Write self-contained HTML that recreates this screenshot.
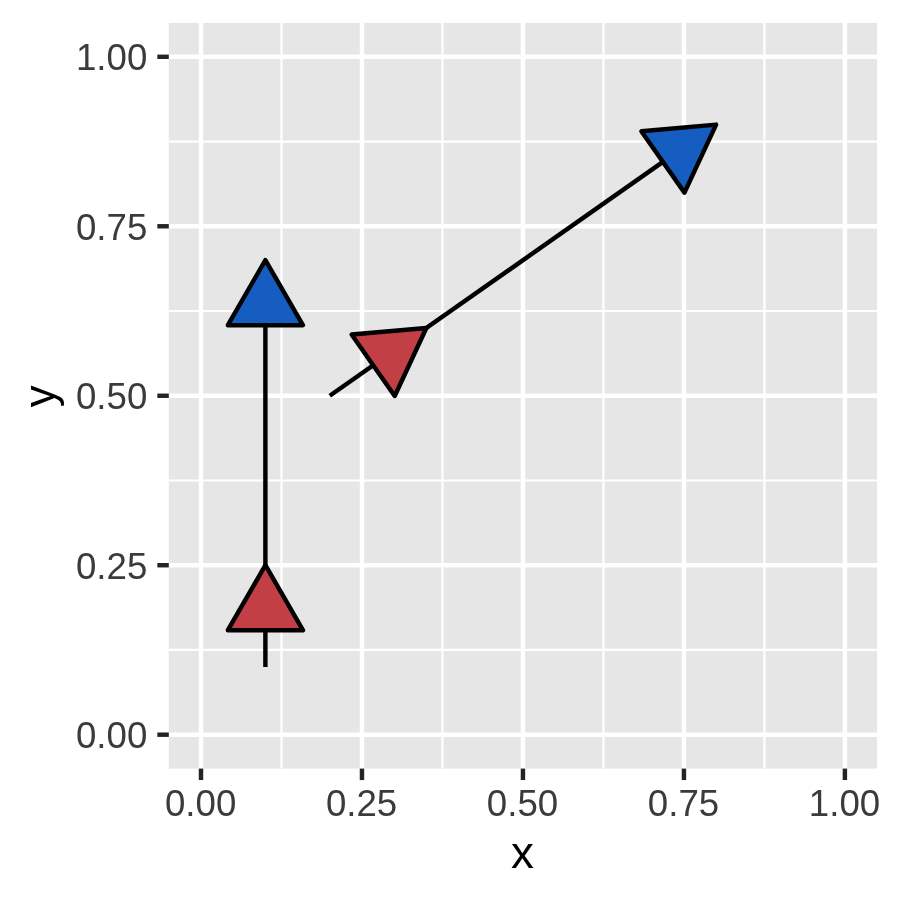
<!DOCTYPE html>
<html><head><meta charset="utf-8"><title>plot</title>
<style>html,body{margin:0;padding:0;background:#fff}svg{display:block;will-change:transform}text{font-family:"Liberation Sans",sans-serif}</style>
</head><body>
<svg width="900" height="900" viewBox="0 0 900 900">
<rect width="900" height="900" fill="#fff"/>
<rect x="168.80" y="22.90" width="708.30" height="745.70" fill="#E6E6E6"/>
<line x1="281.48" x2="281.48" y1="22.90" y2="768.60" stroke="#fff" stroke-width="2.22"/>
<line y1="649.97" y2="649.97" x1="168.80" x2="877.10" stroke="#fff" stroke-width="2.22"/>
<line x1="442.46" x2="442.46" y1="22.90" y2="768.60" stroke="#fff" stroke-width="2.22"/>
<line y1="480.49" y2="480.49" x1="168.80" x2="877.10" stroke="#fff" stroke-width="2.22"/>
<line x1="603.44" x2="603.44" y1="22.90" y2="768.60" stroke="#fff" stroke-width="2.22"/>
<line y1="311.01" y2="311.01" x1="168.80" x2="877.10" stroke="#fff" stroke-width="2.22"/>
<line x1="764.42" x2="764.42" y1="22.90" y2="768.60" stroke="#fff" stroke-width="2.22"/>
<line y1="141.53" y2="141.53" x1="168.80" x2="877.10" stroke="#fff" stroke-width="2.22"/>
<line x1="201.00" x2="201.00" y1="22.90" y2="768.60" stroke="#fff" stroke-width="4.44"/>
<line y1="734.70" y2="734.70" x1="168.80" x2="877.10" stroke="#fff" stroke-width="4.44"/>
<line x1="361.97" x2="361.97" y1="22.90" y2="768.60" stroke="#fff" stroke-width="4.44"/>
<line y1="565.23" y2="565.23" x1="168.80" x2="877.10" stroke="#fff" stroke-width="4.44"/>
<line x1="522.95" x2="522.95" y1="22.90" y2="768.60" stroke="#fff" stroke-width="4.44"/>
<line y1="395.75" y2="395.75" x1="168.80" x2="877.10" stroke="#fff" stroke-width="4.44"/>
<line x1="683.93" x2="683.93" y1="22.90" y2="768.60" stroke="#fff" stroke-width="4.44"/>
<line y1="226.27" y2="226.27" x1="168.80" x2="877.10" stroke="#fff" stroke-width="4.44"/>
<line x1="844.90" x2="844.90" y1="22.90" y2="768.60" stroke="#fff" stroke-width="4.44"/>
<line y1="56.80" y2="56.80" x1="168.80" x2="877.10" stroke="#fff" stroke-width="4.44"/>
<line x1="201.00" x2="201.00" y1="768.60" y2="780.06" stroke="#242424" stroke-width="4.44"/>
<line y1="734.70" y2="734.70" x1="157.34" x2="168.80" stroke="#242424" stroke-width="4.44"/>
<text transform="translate(200.60,816.3) scale(1,1.025)" text-anchor="middle" font-size="36.67" fill="#3B3B3B">0.00</text>
<text transform="translate(147.3,748.20) scale(1,1.025)" text-anchor="end" font-size="36.67" fill="#3B3B3B">0.00</text>
<line x1="361.97" x2="361.97" y1="768.60" y2="780.06" stroke="#242424" stroke-width="4.44"/>
<line y1="565.23" y2="565.23" x1="157.34" x2="168.80" stroke="#242424" stroke-width="4.44"/>
<text transform="translate(361.57,816.3) scale(1,1.025)" text-anchor="middle" font-size="36.67" fill="#3B3B3B">0.25</text>
<text transform="translate(147.3,578.73) scale(1,1.025)" text-anchor="end" font-size="36.67" fill="#3B3B3B">0.25</text>
<line x1="522.95" x2="522.95" y1="768.60" y2="780.06" stroke="#242424" stroke-width="4.44"/>
<line y1="395.75" y2="395.75" x1="157.34" x2="168.80" stroke="#242424" stroke-width="4.44"/>
<text transform="translate(522.55,816.3) scale(1,1.025)" text-anchor="middle" font-size="36.67" fill="#3B3B3B">0.50</text>
<text transform="translate(147.3,409.25) scale(1,1.025)" text-anchor="end" font-size="36.67" fill="#3B3B3B">0.50</text>
<line x1="683.93" x2="683.93" y1="768.60" y2="780.06" stroke="#242424" stroke-width="4.44"/>
<line y1="226.27" y2="226.27" x1="157.34" x2="168.80" stroke="#242424" stroke-width="4.44"/>
<text transform="translate(683.53,816.3) scale(1,1.025)" text-anchor="middle" font-size="36.67" fill="#3B3B3B">0.75</text>
<text transform="translate(147.3,239.77) scale(1,1.025)" text-anchor="end" font-size="36.67" fill="#3B3B3B">0.75</text>
<line x1="844.90" x2="844.90" y1="768.60" y2="780.06" stroke="#242424" stroke-width="4.44"/>
<line y1="56.80" y2="56.80" x1="157.34" x2="168.80" stroke="#242424" stroke-width="4.44"/>
<text transform="translate(844.50,816.3) scale(1,1.025)" text-anchor="middle" font-size="36.67" fill="#3B3B3B">1.00</text>
<text transform="translate(147.3,70.30) scale(1,1.025)" text-anchor="end" font-size="36.67" fill="#3B3B3B">1.00</text>
<text transform="translate(522.35,868.0) scale(1,0.965)" text-anchor="middle" font-size="45.83" fill="#000">x</text>
<text transform="translate(55.1,396.35) rotate(-90) scale(0.95,0.965)" text-anchor="middle" font-size="45.83" fill="#000">y</text>
<line x1="265.39" y1="666.91" x2="265.39" y2="325.17" stroke="#000" stroke-width="4.44"/>
<polygon points="265.39,565.23 302.91,630.23 227.86,630.23" fill="#C13F45" stroke="#000" stroke-width="4.44" stroke-linejoin="round"/>
<polygon points="265.39,260.17 302.91,325.17 227.86,325.17" fill="#165DC2" stroke="#000" stroke-width="4.44" stroke-linejoin="round"/>
<line x1="329.78" y1="395.75" x2="662.92" y2="161.93" stroke="#000" stroke-width="4.44"/>
<polygon points="426.36,327.96 394.72,396.02 351.60,334.58" fill="#C13F45" stroke="#000" stroke-width="4.44" stroke-linejoin="round"/>
<polygon points="716.12,124.59 684.48,192.65 641.36,131.21" fill="#165DC2" stroke="#000" stroke-width="4.44" stroke-linejoin="round"/>
</svg>
</body></html>
